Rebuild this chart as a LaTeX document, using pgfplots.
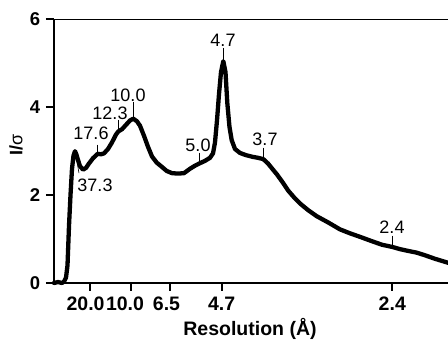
\documentclass[border=0pt]{standalone}
\usepackage{fontspec}
\setmainfont{Liberation Sans}
\usepackage{pgfplots}
\pgfplotsset{compat=1.18}
\begin{document}
\begin{tikzpicture}[x=1pt,y=1pt]
\begin{axis}[
  scale only axis,
  width=394pt, height=263.5pt,
  xmin=0, xmax=394, ymin=0, ymax=6,
  axis lines=left,
  axis line style={line width=1.2pt, -},
  clip=false,
  xtick={36.3,77.5,115.8,167.7,338.3},
  xticklabels={{20.0\kern9.4pt},{10.0\kern13pt},{6.5\kern6.6pt},{4.7},{2.4}},
  ytick={0,2,4,6},
  tick align=outside,
  major tick length=8pt,
  tick style={line width=2pt, black},
  /pgf/number format/assume math mode=true,
  xticklabel style={font=\bfseries\fontsize{19.5}{19}\selectfont, inner sep=0pt, anchor=north, yshift=-5.5pt},
  yticklabel style={font=\bfseries\fontsize{18.5}{18}\selectfont, inner sep=0pt, anchor=east, xshift=-5.7pt},
  ylabel={\bfseries\fontsize{18}{18}\selectfont I/\mdseries σ},
  ylabel style={at={(axis description cs:-0.0964,0.5227)}, anchor=center, inner sep=0pt},
]
\addplot[black, line width=4.3pt, line join=round, line cap=round] coordinates {
(0,0) (4,0.02) (8,0.0) (10,0.03) (12,0.12) (13.5,0.4) (15,1.3) (16.5,2.0) (18,2.6)
(19.5,2.9) (21,3.0) (22.5,2.92) (24,2.8) (26,2.66) (29,2.58) (32,2.62) (35,2.72)
(39,2.84) (43.7,2.94) (47,2.93) (50,2.95) (54,3.05) (58,3.2) (62,3.38) (64.3,3.45)
(68,3.5) (72,3.6) (76,3.7) (79.3,3.74) (83,3.68) (86,3.58) (90,3.35) (94,3.1)
(98,2.88) (102.7,2.74) (107,2.66) (112.7,2.55) (118,2.5) (124,2.49) (130,2.5)
(136,2.6) (141,2.67) (145.3,2.72) (151,2.78) (156,2.85) (159,2.95) (161,3.2)
(163,3.7) (165,4.3) (167,4.8) (169.3,5.05) (171.5,4.8) (173.3,4.1) (175.5,3.55)
(177.7,3.25) (181,3.05) (186,2.96) (192,2.91) (199,2.87) (204,2.85) (209.3,2.82)
(214,2.72) (219,2.58) (223,2.47) (229,2.28) (234.3,2.1) (240,1.95) (246,1.81)
(254,1.66) (262.7,1.52) (274,1.38) (286,1.22) (296,1.13) (306,1.05) (318,0.95)
(328,0.87) (338.3,0.82) (346,0.77) (354,0.73) (362.7,0.69) (371,0.63) (381,0.55)
(394,0.46)
};
% x axis title
\node[anchor=base, inner sep=0pt, font=\bfseries\fontsize{19.5}{19}\selectfont] at (axis cs:196,-1.20) {Resolution (Å)};
% annotations
\begin{scope}[every node/.style={font=\fontsize{18}{18}\selectfont, inner sep=0pt}]
\draw[line width=0.6pt] (axis cs:21.5,2.96) -- (axis cs:25,2.5);
\node at (axis cs:41,2.216) {37.3};
\draw[line width=0.6pt] (axis cs:43.7,3.148) -- (axis cs:43.7,2.966);
\node at (axis cs:37,3.40) {17.6};
\draw[line width=0.6pt] (axis cs:64.3,3.716) -- (axis cs:64.3,3.466);
\node at (axis cs:56,3.87) {12.3};
\draw[line width=0.6pt] (axis cs:79.3,4.125) -- (axis cs:79.3,3.761);
\node at (axis cs:74,4.28) {10.0};
\draw[line width=0.6pt] (axis cs:145.3,2.966) -- (axis cs:145.3,2.716);
\node at (axis cs:144,3.14) {5.0};
\draw[line width=0.6pt] (axis cs:169,5.352) -- (axis cs:169,5.08);
\node at (axis cs:169,5.52) {4.7};
\draw[line width=0.6pt] (axis cs:209.3,3.08) -- (axis cs:209.3,2.852);
\node at (axis cs:211,3.27) {3.7};
\draw[line width=0.6pt] (axis cs:338.3,1.08) -- (axis cs:338.3,0.852);
\node at (axis cs:338,1.27) {2.4};
\end{scope}
\draw[line width=1.2pt] (axis cs:0,6) -- (axis cs:394,6);
\coordinate (tl) at (axis cs:-54,6.443);
\coordinate (br) at (axis cs:394,-1.398);
\end{axis}
\pgfresetboundingbox
\useasboundingbox (tl) rectangle (br);
\end{tikzpicture}
\end{document}
